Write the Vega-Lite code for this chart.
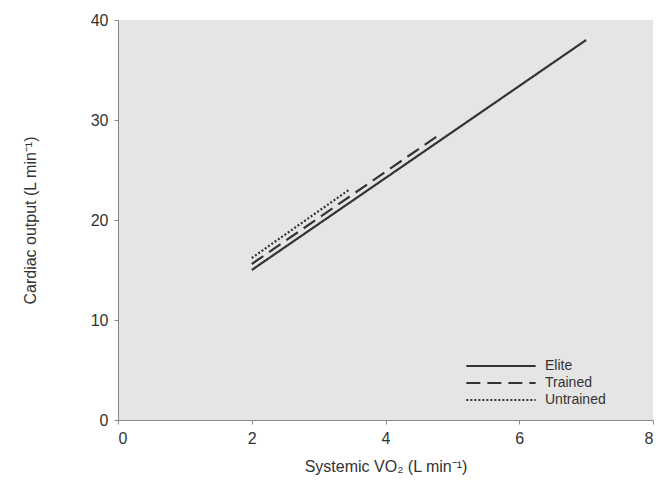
{
  "$schema": "https://vega.github.io/schema/vega-lite/v6.json",
  "autosize": {"type": "none"},
  "width": 535,
  "height": 400,
  "padding": {"left": 118, "top": 20, "right": 11, "bottom": 70},
  "background": "white",
  "config": {
    "font": "Liberation Sans",
    "view": {"fill": "#e5e5e5", "stroke": null},
    "axis": {
      "grid": false,
      "domainColor": "#888888",
      "tickColor": "#888888",
      "tickSize": 4,
      "labelFontSize": 16,
      "labelColor": "#333333",
      "titleFontSize": 16,
      "titleFontWeight": "normal",
      "titleColor": "#333333"
    }
  },
  "data": {
    "values": [
      {"group": "Elite", "vo2": 2.0, "co": 15.0},
      {"group": "Elite", "vo2": 7.0, "co": 38.0},
      {"group": "Trained", "vo2": 2.0, "co": 15.6},
      {"group": "Trained", "vo2": 4.8, "co": 28.5},
      {"group": "Untrained", "vo2": 2.0, "co": 16.2},
      {"group": "Untrained", "vo2": 3.45, "co": 23.0}
    ]
  },
  "mark": {"type": "line", "color": "#333333", "strokeWidth": 2.2},
  "encoding": {
    "x": {
      "field": "vo2", "type": "quantitative",
      "scale": {"domain": [0, 8], "nice": false},
      "axis": {"values": [0, 2, 4, 6, 8], "title": "Systemic VO₂ (L min⁻¹)", "titlePadding": 12, "labelPadding": 6}
    },
    "y": {
      "field": "co", "type": "quantitative",
      "scale": {"domain": [0, 40], "nice": false},
      "axis": {"values": [0, 10, 20, 30, 40], "title": "Cardiac output (L min⁻¹)", "titlePadding": 52, "labelPadding": 6}
    },
    "strokeDash": {
      "field": "group", "type": "nominal",
      "scale": {"domain": ["Elite", "Trained", "Untrained"], "range": [[1, 0], [14, 7], [2, 2]]},
      "legend": {
        "title": null,
        "orient": "none",
        "legendX": 347,
        "legendY": 338,
        "symbolType": "stroke",
        "symbolSize": 4800,
        "clipHeight": 16,
        "symbolStrokeWidth": 2,
        "symbolStrokeColor": "#333333",
        "labelFontSize": 14,
        "labelColor": "#333333",
        "rowPadding": 1,
        "labelOffset": 8
      }
    }
  }
}
